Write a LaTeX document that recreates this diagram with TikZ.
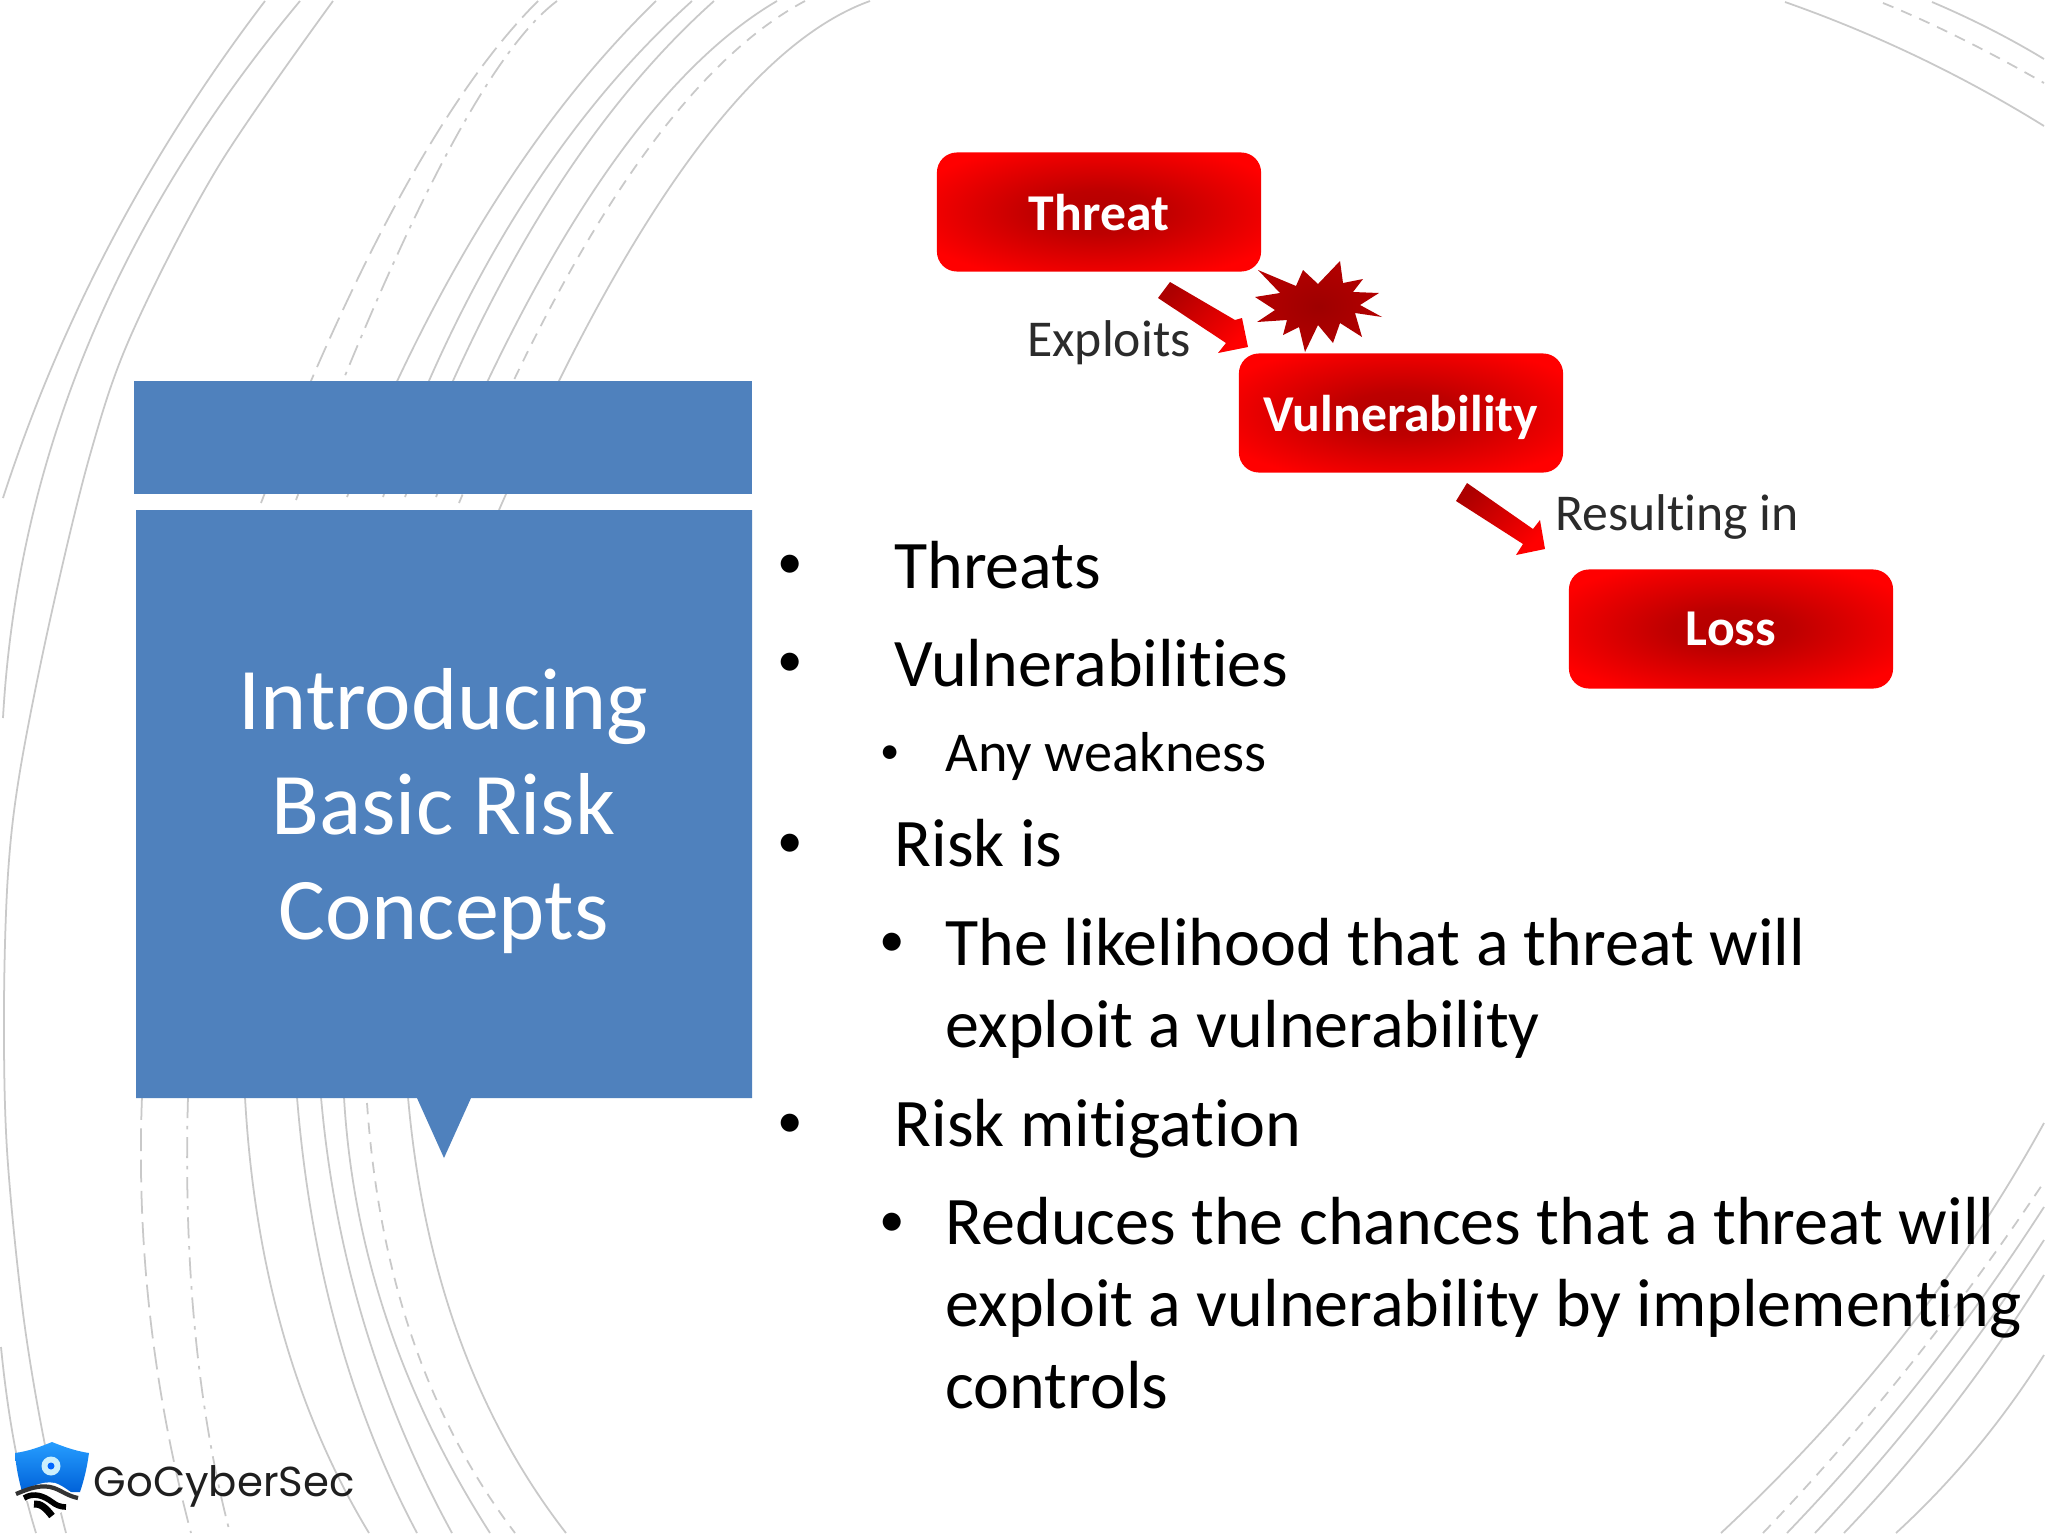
\documentclass[tikz,border=0pt]{standalone}
\usepackage{fontspec}
\usetikzlibrary{calc}
\setmainfont[Ligatures=NoCommon]{Carlito}
\newfontfamily\logofont{Poppins}
\definecolor{panelblue}{HTML}{4F81BD}
\definecolor{arcgrey}{HTML}{C9C9C9}
\definecolor{labelgrey}{HTML}{2B2B2B}
\pgfdeclareradialshading{boxglow}{\pgfpoint{0bp}{0bp}}{rgb(0bp)=(0.70,0,0); rgb(9bp)=(0.74,0,0); rgb(30bp)=(1,0,0); rgb(50bp)=(1,0,0)}
\pgfdeclareradialshading{starglow}{\pgfpoint{0bp}{0bp}}{rgb(0bp)=(0.62,0,0); rgb(30bp)=(0.72,0,0); rgb(50bp)=(0.85,0.05,0.05)}
\tikzset{
  arcline/.style={draw=arcgrey,line width=0.5pt},
  arcdash/.style={arcline,dash pattern=on 3.2pt off 2.4pt},
  arclong/.style={arcline,dash pattern=on 6.5pt off 2.4pt},
  arcdot/.style={arcline,dash pattern=on 6pt off 2.2pt on 1pt off 2.2pt},
  redbox/.style={shading=boxglow,rounded corners=0.2cm,minimum width=3.24cm,minimum height=1.19cm,inner sep=0pt,text depth=0pt,text=white,font=\fontsize{14.7}{17}\selectfont\bfseries},
  blockarrow/.style={top color=red!68!black,bottom color=red,shading angle=45},
  caption/.style={text=labelgrey,inner sep=0pt,anchor=base,font=\fontsize{14.7}{17}\selectfont},
  bigtext/.style={inner sep=0pt,anchor=base west,align=left,font=\fontsize{19.35}{23.3}\selectfont},
  smalltext/.style={inner sep=0pt,anchor=base west,font=\fontsize{16}{19}\selectfont},
  bigdot/.style={inner sep=0pt,anchor=base,font=\fontsize{14.5}{18}\selectfont},
  smalldot/.style={inner sep=0pt,anchor=base,font=\fontsize{11}{14}\selectfont},
}
% an arc through three points: start, middle, end
\newcommand{\qarc}[4]{\draw[#1] (#2) .. controls ($1.3333*(#3)-0.3333*(#4)$) and ($1.3333*(#3)-0.3333*(#2)$) .. (#4);}
\begin{document}
\begin{tikzpicture}[x=0.01cm,y=-0.01cm]
\useasboundingbox (0,0) rectangle (2048,1536);
\fill[white] (0,0) rectangle (2048,1536);
% background arcs, upper left
\qarc{arcline}{265,1}{112,240}{3,498}
\qarc{arcline}{300,1}{88,345}{3,718}
\qarc{arcline}{1,1347}{15,1447}{36,1533}
\draw[arcline] plot[smooth,tension=.55] coordinates {(333,1) (218,167) (132,333) (90,455) (50,620) (20,771) (8,874) (4,1008) (7,1150) (23,1313) (44,1440) (66,1533)};
\qarc{arclong}{538,1}{402,193}{261,503}
\qarc{arcdot}{557,1}{442,163}{296,500}
\qarc{arcline}{656,1}{488,213}{347,497}
\qarc{arcline}{692,1}{517,213}{383,497}
\qarc{arcline}{714,1}{545,207}{405,497}
\qarc{arcline}{777,1}{603,177}{436,497}
\qarc{arcdash}{805,1}{631,173}{459,503}
\qarc{arcline}{870,1}{689,160}{499,510}
% background arcs, lower left
\qarc{arclong}{142,1097}{150,1315}{191,1533}
\qarc{arcdot}{188,1097}{195,1330}{230,1533}
\qarc{arcline}{245,1097}{283,1333}{369,1533}
\qarc{arcline}{297,1097}{337,1330}{417,1533}
\qarc{arcline}{321,1097}{364,1323}{452,1533}
\qarc{arcline}{344,1097}{387,1320}{490,1533}
\qarc{arcdash}{367,1103}{413,1340}{515,1533}
\qarc{arcline}{408,1097}{459,1337}{566,1533}
% background arcs, upper right
\qarc{arcline}{1785,2}{1918,57}{2044,126}
\qarc{arcdash}{1883,3}{1960,38}{2044,83}
\qarc{arcline}{1932,2}{1990,29}{2044,59}
% background arcs, lower right
\qarc{arcline}{1721,1533}{1902,1337}{2044,1123}
\qarc{arcdash}{1763,1533}{1910,1365}{2044,1182}
\qarc{arcline}{1787,1533}{1922,1378}{2044,1207}
\qarc{arcline}{1815,1533}{1936,1392}{2044,1240}
\qarc{arcline}{1844,1533}{1950,1410}{2044,1275}
\qarc{arcline}{1896,1533}{1975,1450}{2044,1355}
% blue panels
\fill[panelblue] (134,381) rectangle (752,494);
\fill[panelblue] (136,510) -- (752,510) -- (752,1098) -- (471,1098) -- (444,1158) -- (417,1098) -- (136,1098) -- cycle;
\node[text=white,inner sep=0pt,anchor=base,font=\fontsize{25}{29.9}\selectfont,align=center] (title) at (443.5,939.5) {Introducing\\Basic Risk\\Concepts};
% diagram
\node[redbox] (threat) at (1099,212) {Threat};
\node[redbox] (vuln) at (1401,413) {Vulnerability};
\node[redbox] (loss) at (1731,629) {Loss};
\shade[shading=starglow] (1258,270) -- (1296,286) -- (1303,270) -- (1318,284) -- (1340,261) -- (1343,283) -- (1363,279) -- (1353,292) -- (1379,293) -- (1360,305) -- (1382,317) -- (1355,313) -- (1362,337) -- (1340,323) -- (1333,343) -- (1318,325) -- (1305,352) -- (1299,327) -- (1283,335) -- (1287,320) -- (1257,322) -- (1275,310) -- (1255,297) -- (1280,293) -- cycle;
\shade[blockarrow] (1170,282) -- (1235,320) -- (1242,318) -- (1248,347) -- (1218,353) -- (1226,343) -- (1158,298) -- cycle;
\shade[blockarrow] (1467,483) -- (1533,529) -- (1540,520) -- (1545,549) -- (1516,555) -- (1523,544) -- (1456,501) -- cycle;
\node[caption] (exploits) at (1109,356.5) {Exploits};
\node[caption] (resulting) at (1677,530) {Resulting in};
% bullets
\node[bigdot] (b1) at (790,578) {•};
\node[bigdot] (b2) at (790,676) {•};
\node[smalldot] (b3) at (890.5,763) {•};
\node[bigdot] (b4) at (790,857) {•};
\node[bigdot] (b5) at (892.5,956) {•};
\node[bigdot] (b6) at (790,1137) {•};
\node[bigdot] (b7) at (892.5,1236) {•};
\node[bigtext] (t1) at (893.5,588) {Threats};
\node[bigtext] (t2) at (893.5,686) {Vulnerabilities};
\node[smalltext] (t3) at (945,771.5) {Any weakness};
\node[bigtext] (t4) at (894,866) {Risk is};
\node[bigtext] (t5) at (945,1047) {The likelihood that a threat will\\exploit a vulnerability};
\node[bigtext] (t6) at (894,1146) {Risk mitigation};
\node[bigtext] (t7) at (945,1408) {Reduces the chances that a threat will\\exploit a vulnerability by implementing\\controls};
% logo
\shade[top color=cyan!55!blue!85,bottom color=blue!55!cyan!85!black] (15,1453) .. controls (30,1451) and (42,1446) .. (52,1442) .. controls (62,1446) and (75,1451) .. (89,1453) .. controls (87,1468) and (84,1480) .. (80,1492) -- (22,1492) .. controls (19,1480) and (16,1468) .. (15,1453) -- cycle;
\fill[white] (14,1494) .. controls (30,1488) and (42,1480) .. (55,1483) .. controls (65,1486) and (72,1495) .. (82,1498) .. controls (72,1505) and (62,1512) .. (52,1518) .. controls (42,1510) and (28,1500) .. (14,1494) -- cycle;
\draw[black!80,line width=1.2pt] (16,1494) .. controls (30,1488) and (42,1484) .. (54,1488) .. controls (62,1491) and (68,1496) .. (78,1498);
\draw[black,line width=1.6pt] (24,1498) .. controls (34,1492) and (44,1496) .. (52,1502) .. controls (56,1505) and (60,1507) .. (66,1507);
\draw[black,line width=2pt] (34,1504) .. controls (40,1503) and (46,1508) .. (52,1516);
\fill[white!80!cyan] (51,1466) circle[radius=9.5];
\fill[blue!60!cyan] (51,1466) circle[radius=3.5];
\node[inner sep=0pt,anchor=base west,text=black!88,font=\logofont\fontsize{11.9}{15}\selectfont] (logo) at (93,1496) {GoCyberSec};
\end{tikzpicture}
\end{document}
